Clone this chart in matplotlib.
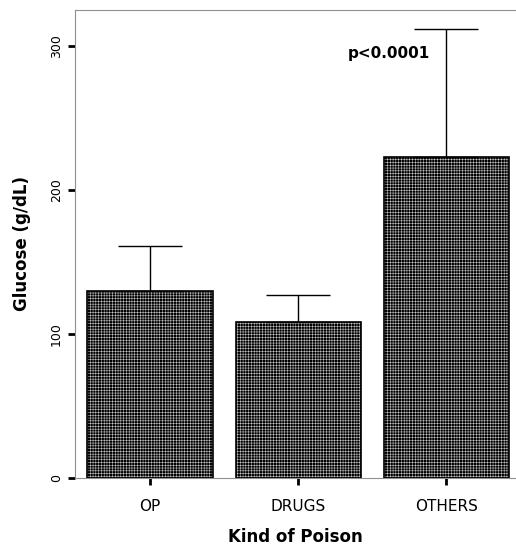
import matplotlib
matplotlib.use("Agg")
import matplotlib.pyplot as plt

categories = ["OP", "DRUGS", "OTHERS"]
means = [130, 108, 223]
upper_err = [31, 19, 89]
p_text = "p<0.0001"
y_ticks = [0, 100, 200, 300]

plt.rcParams['font.family'] = ['Liberation Sans Narrow', 'DejaVu Sans']
plt.rcParams['hatch.linewidth'] = 0.35

fig = plt.figure(figsize=(5.16, 5.51), dpi=100)
ax = fig.add_axes([0.1453, 0.1325, 0.8547, 0.8494])

x = list(range(len(categories)))
ax.bar(x, means, width=0.845, color='black', edgecolor='#d0d0d0', hatch='++++++', linewidth=0)
ax.bar(x, means, width=0.845, fill=False, edgecolor='black', linewidth=1.2)
ax.errorbar(x, means, yerr=[[0] * len(means), upper_err], fmt='none',
            ecolor='black', elinewidth=1, capsize=23, capthick=1)

ax.text(1.89, 295, p_text, ha='right', va='center', fontsize=11,
        fontweight='bold', family='DejaVu Sans')

ax.set_xlim(-0.507, 2.47)
ax.set_ylim(0, 325)
ax.set_xticks(x)
ax.set_xticklabels(categories, fontsize=11)
ax.set_yticks(y_ticks)
ax.set_yticklabels([str(v) for v in y_ticks], fontsize=9, rotation=90, va='center')
ax.tick_params(axis='both', length=5, width=2, color='black')
ax.tick_params(axis='x', pad=10)

for s in ['left', 'top', 'bottom']:
    ax.spines[s].set_color('#909090')
ax.spines['right'].set_visible(False)

ax.set_ylabel("Glucose (g/dL)", fontsize=12, fontweight='bold', family='DejaVu Sans', labelpad=14)
ax.set_xlabel("Kind of Poison", fontsize=12, fontweight='bold', family='DejaVu Sans', labelpad=10)

fig.savefig("out.png", dpi=100)
